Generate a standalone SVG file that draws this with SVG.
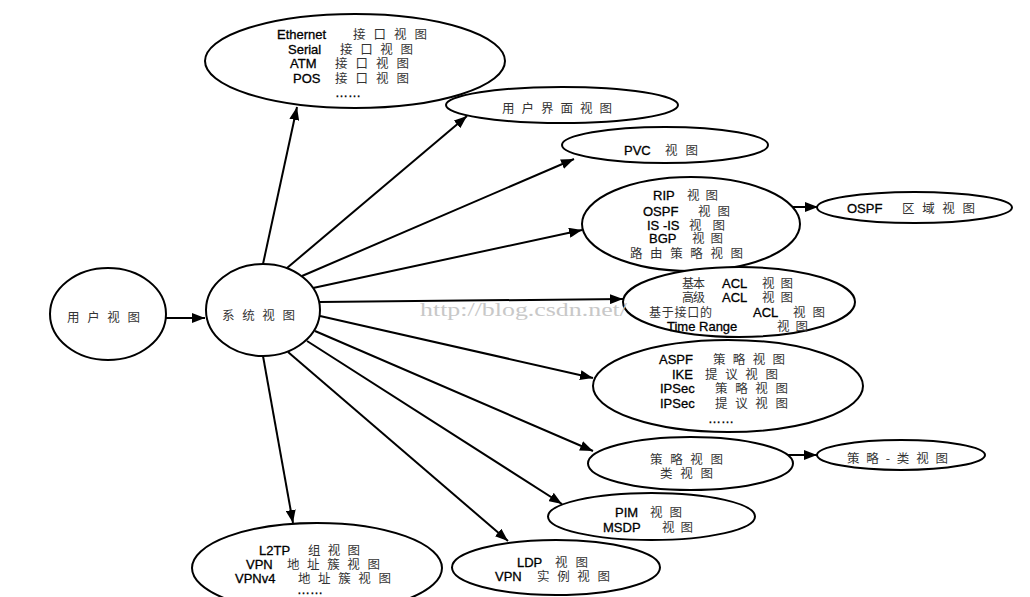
<svg xmlns="http://www.w3.org/2000/svg" width="1030" height="597" viewBox="0 0 1030 597">
<style>
.n{fill:#fff;stroke:#000;stroke-width:2}
.c{fill:none;stroke:#000;stroke-width:2}
.l{font-family:"Liberation Sans",Arial,sans-serif;font-size:13px;fill:#000;stroke:#000;stroke-width:0.3}
.h{font-family:"Noto Sans CJK SC","Noto Sans CJK JP",sans-serif;font-size:12.5px;fill:#333;stroke:none}
.s{font-size:12px}
.w{font-family:"Liberation Serif","Times New Roman",serif;font-size:19px;fill:#c8c8c8}
</style>
<defs>
<marker id="ah" markerUnits="userSpaceOnUse" markerWidth="14" markerHeight="10" refX="13" refY="5" orient="auto">
<path d="M0,0 L13,5 L0,10 z" fill="#000"/>
</marker>
</defs>
<rect width="1030" height="597" fill="#fff"/>

<g id="connectors">
<line class="c" x1="263" y1="264" x2="297" y2="107" marker-end="url(#ah)"/>
<line class="c" x1="287" y1="268" x2="467" y2="116" marker-end="url(#ah)"/>
<line class="c" x1="302" y1="276" x2="574" y2="159" marker-end="url(#ah)"/>
<line class="c" x1="313" y1="288" x2="582" y2="230" marker-end="url(#ah)"/>
<line class="c" x1="320" y1="302" x2="623" y2="299" marker-end="url(#ah)"/>
<line class="c" x1="320" y1="316" x2="593" y2="378" marker-end="url(#ah)"/>
<line class="c" x1="315" y1="331" x2="593" y2="451" marker-end="url(#ah)"/>
<line class="c" x1="307" y1="341" x2="562" y2="504" marker-end="url(#ah)"/>
<line class="c" x1="288" y1="352" x2="508" y2="541" marker-end="url(#ah)"/>
<line class="c" x1="263" y1="356" x2="293" y2="523" marker-end="url(#ah)"/>
<line class="c" x1="166" y1="318" x2="205" y2="318" marker-end="url(#ah)"/>
<line class="c" x1="742" y1="207" x2="818" y2="207" marker-end="url(#ah)"/>
<line class="c" x1="733" y1="455" x2="817" y2="455" marker-end="url(#ah)"/>
</g>

<g id="user-view">
<ellipse class="n" cx="108" cy="314" rx="58" ry="46"/>
<text class="h" x="67" y="322" textLength="73" lengthAdjust="spacing">用户视图</text>
</g>

<g id="system-view">
<ellipse class="n" cx="263" cy="310" rx="57" ry="46"/>
<text class="h" x="222" y="320" textLength="73" lengthAdjust="spacing">系统视图</text>
</g>

<g id="interface-view">
<ellipse class="n" cx="355" cy="61" rx="150" ry="47"/>
<text class="l" y="39"><tspan x="277">Ethernet</tspan><tspan class="h" x="353" textLength="74" lengthAdjust="spacing">接口视图</tspan></text>
<text class="l" y="54"><tspan x="288">Serial</tspan><tspan class="h" x="340" textLength="73" lengthAdjust="spacing">接口视图</tspan></text>
<text class="l" y="68"><tspan x="290">ATM</tspan><tspan class="h" x="335" textLength="74" lengthAdjust="spacing">接口视图</tspan></text>
<text class="l" y="83"><tspan x="293">POS</tspan><tspan class="h" x="335" textLength="74" lengthAdjust="spacing">接口视图</tspan></text>
<text class="l" x="335" y="97">……</text>
</g>

<g id="ui-view">
<ellipse class="n" cx="562" cy="105" rx="116" ry="18"/>
<text class="h" x="502" y="113" textLength="110" lengthAdjust="spacing">用户界面视图</text>
</g>

<g id="pvc-view">
<ellipse class="n" cx="665" cy="145" rx="103" ry="18"/>
<text class="l" y="155"><tspan x="624">PVC</tspan><tspan class="h" x="665" textLength="33" lengthAdjust="spacing">视图</tspan></text>
</g>

<g id="routing-view">
<ellipse class="n" cx="691" cy="224" rx="109" ry="47"/>
<text class="l" y="200"><tspan x="653">RIP</tspan><tspan class="h" x="687" textLength="31" lengthAdjust="spacing">视图</tspan></text>
<text class="l" y="216"><tspan x="643">OSPF</tspan><tspan class="h" x="698" textLength="32" lengthAdjust="spacing">视图</tspan></text>
<text class="l" y="230"><tspan x="647">IS -IS</tspan><tspan class="h" x="689" textLength="36" lengthAdjust="spacing">视图</tspan></text>
<text class="l" y="243"><tspan x="649">BGP</tspan><tspan class="h" x="692" textLength="31" lengthAdjust="spacing">视图</tspan></text>
<text class="h" x="630" y="258" textLength="113" lengthAdjust="spacing">路由策略视图</text>
</g>

<g id="ospf-area-view">
<ellipse class="n" cx="914.5" cy="207.5" rx="97.5" ry="15.5"/>
<text class="l" y="213"><tspan x="847">OSPF</tspan><tspan class="h" x="902" textLength="73" lengthAdjust="spacing">区域视图</tspan></text>
</g>

<g id="acl-view">
<ellipse class="n" cx="739" cy="302" rx="116" ry="35"/>
<text class="l" y="288"><tspan class="h s" x="682" textLength="23" lengthAdjust="spacing">基本</tspan><tspan x="722">ACL</tspan><tspan class="h" x="762" textLength="31" lengthAdjust="spacing">视图</tspan></text>
<text class="l" y="302"><tspan class="h s" x="682" textLength="23" lengthAdjust="spacing">高级</tspan><tspan x="722">ACL</tspan><tspan class="h" x="762" textLength="31" lengthAdjust="spacing">视图</tspan></text>
<text class="l" y="317"><tspan class="h s" x="649" textLength="63" lengthAdjust="spacing">基于接口的</tspan><tspan x="753">ACL</tspan><tspan class="h" x="793" textLength="32" lengthAdjust="spacing">视图</tspan></text>
<text class="l" y="331"><tspan x="667">Time Range</tspan><tspan class="h" x="777" textLength="31" lengthAdjust="spacing">视图</tspan></text>
</g>

<g id="security-view">
<ellipse class="n" cx="728" cy="386" rx="135" ry="46"/>
<text class="l" y="364"><tspan x="659">ASPF</tspan><tspan class="h" x="713" textLength="72" lengthAdjust="spacing">策略视图</tspan></text>
<text class="l" y="379"><tspan x="672">IKE</tspan><tspan class="h" x="705" textLength="73" lengthAdjust="spacing">提议视图</tspan></text>
<text class="l" y="393"><tspan x="660">IPSec</tspan><tspan class="h" x="715" textLength="73" lengthAdjust="spacing">策略视图</tspan></text>
<text class="l" y="408"><tspan x="660">IPSec</tspan><tspan class="h" x="715" textLength="73" lengthAdjust="spacing">提议视图</tspan></text>
<text class="l" x="708" y="423">……</text>
</g>

<g id="policy-view">
<ellipse class="n" cx="690.5" cy="463.5" rx="102.5" ry="26.5"/>
<text class="h" x="650" y="464" textLength="73" lengthAdjust="spacing">策略视图</text>
<text class="h" x="660" y="478" textLength="53" lengthAdjust="spacing">类视图</text>
</g>

<g id="policy-class-view">
<ellipse class="n" cx="901" cy="455" rx="84" ry="15"/>
<text class="h" x="847" y="463" textLength="101" lengthAdjust="spacing">策略-类视图</text>
</g>

<g id="pim-view">
<ellipse class="n" cx="651.5" cy="516.5" rx="103.5" ry="23.5"/>
<text class="l" y="517"><tspan x="615">PIM</tspan><tspan class="h" x="650" textLength="32" lengthAdjust="spacing">视图</tspan></text>
<text class="l" y="532"><tspan x="603">MSDP</tspan><tspan class="h" x="662" textLength="31" lengthAdjust="spacing">视图</tspan></text>
</g>

<g id="ldp-view">
<ellipse class="n" cx="556" cy="567.5" rx="104" ry="27.5"/>
<text class="l" y="567"><tspan x="517">LDP</tspan><tspan class="h" x="555" textLength="33" lengthAdjust="spacing">视图</tspan></text>
<text class="l" y="581"><tspan x="495">VPN</tspan><tspan class="h" x="537" textLength="73" lengthAdjust="spacing">实例视图</tspan></text>
</g>

<g id="l2tp-view">
<ellipse class="n" cx="317" cy="568" rx="125" ry="45"/>
<text class="l" y="555"><tspan x="259">L2TP</tspan><tspan class="h" x="308" textLength="52" lengthAdjust="spacing">组视图</tspan></text>
<text class="l" y="569"><tspan x="246">VPN</tspan><tspan class="h" x="287" textLength="93" lengthAdjust="spacing">地址簇视图</tspan></text>
<text class="l" y="583"><tspan x="235">VPNv4</tspan><tspan class="h" x="298" textLength="93" lengthAdjust="spacing">地址簇视图</tspan></text>
<text class="l" x="297" y="594">……</text>
</g>

<text class="w" x="420" y="316" textLength="207" lengthAdjust="spacingAndGlyphs">http://blog.csdn.net/</text>
</svg>
